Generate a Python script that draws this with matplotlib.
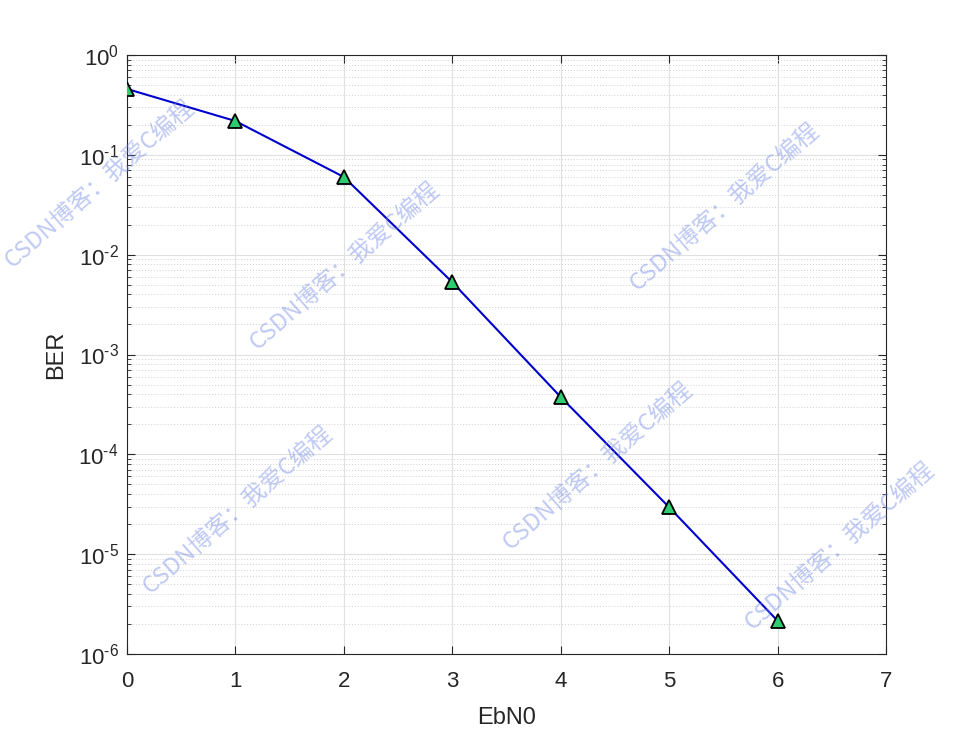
import numpy as np
import matplotlib
matplotlib.use("Agg")
import matplotlib.pyplot as plt
from matplotlib.ticker import LogLocator, NullFormatter, FixedLocator

# data
ebn0 = [0, 1, 2, 3, 4, 5, 6]
ber = [0.457, 0.218, 0.060, 0.0053, 3.75e-4, 2.95e-5, 2.15e-6]
x_ticks = [0, 1, 2, 3, 4, 5, 6, 7]
y_exps = [-6, -5, -4, -3, -2, -1, 0]

watermark = "CSDN博客：我爱C编程"
# watermark centres in figure pixels (x, y from top)
wm_pos = [(100, 184), (345, 266), (725, 207), (238, 510), (598, 466), (840, 546)]

plt.rcParams['font.family'] = ['Liberation Sans', 'DejaVu Sans']
plt.rcParams['mathtext.fontset'] = 'custom'
plt.rcParams['mathtext.rm'] = 'Liberation Sans'
plt.rcParams['mathtext.it'] = 'Liberation Sans'

fig = plt.figure(figsize=(9.8, 7.35), dpi=100)
ax = fig.add_axes([127/980, 1 - 654/735, (886 - 127)/980, (654 - 55)/735])

ax.semilogy(ebn0, ber, color='#0000CD', linewidth=1.5, marker='^',
            markersize=10, markerfacecolor='#2ECC71', markeredgecolor='black',
            markeredgewidth=1.3, zorder=3)

ax.set_xlim(0, 7)
ax.set_ylim(1e-6, 1)
ax.xaxis.set_major_locator(FixedLocator(x_ticks))
ax.yaxis.set_major_locator(FixedLocator([10.0**e for e in y_exps]))
ax.set_yticklabels([r'$10^{\text{%d}}$' % e for e in y_exps])
ax.yaxis.set_minor_locator(LogLocator(base=10, subs=np.arange(2, 10), numticks=20))
ax.yaxis.set_minor_formatter(NullFormatter())

ax.grid(True, which='major', color='#E0E0E0', linewidth=0.8, linestyle='-')
ax.grid(True, which='minor', axis='y', color='#D0D0D0', linewidth=0.7, linestyle=(0, (1, 2)))
ax.set_axisbelow(True)

ax.tick_params(which='both', direction='in', top=True, right=True,
               colors='#262626', labelsize=16)
ax.tick_params(which='major', length=6)
ax.tick_params(which='minor', length=3)
ax.tick_params(axis='x', pad=12)
ax.tick_params(axis='y', pad=6)
for s in ax.spines.values():
    s.set_color('#262626')
    s.set_linewidth(0.8)

ax.set_xlabel('EbN0', fontsize=17, color='#262626', labelpad=11)
ax.set_ylabel('BER', fontsize=17, color='#262626', labelpad=8)

for (px, py) in wm_pos:
    fig.text(px/980, 1 - py/735, watermark, rotation=41, fontsize=17,
             color='#7088E6', alpha=0.45, ha='center', va='center',
             family=['Noto Sans CJK SC', 'DejaVu Sans'], zorder=10)

fig.savefig('out.png', dpi=100)
